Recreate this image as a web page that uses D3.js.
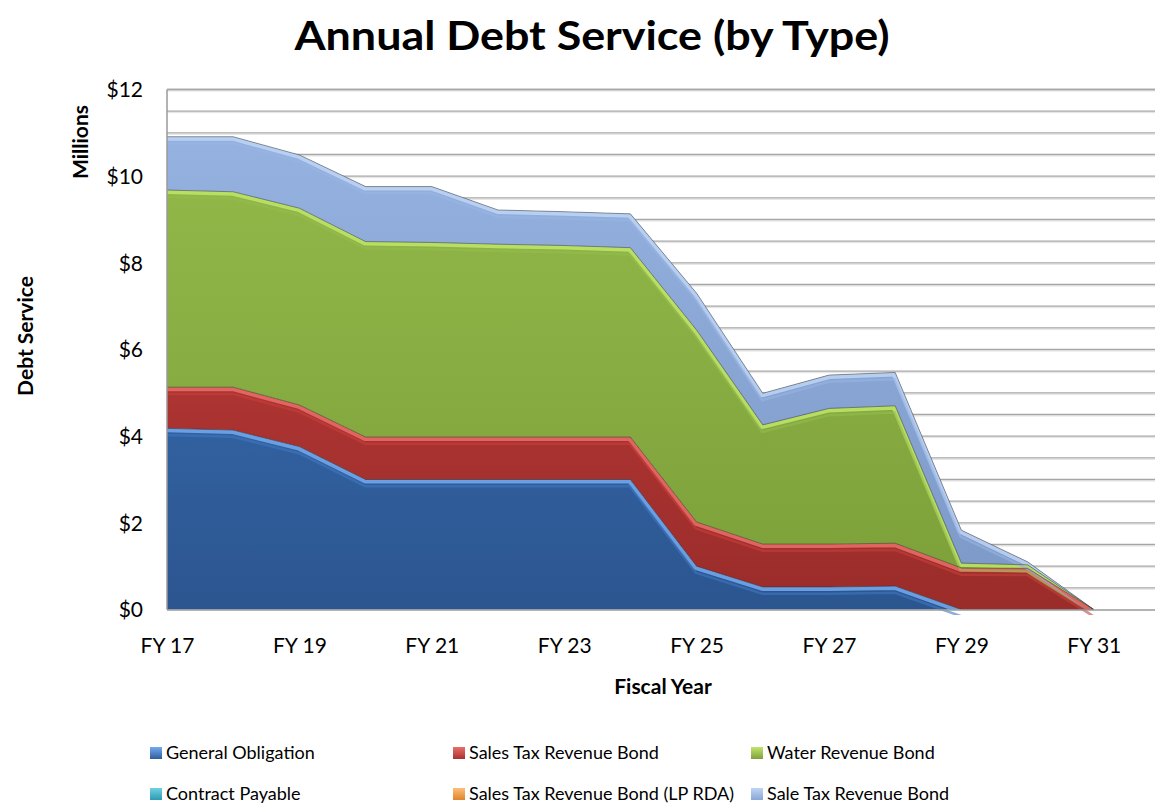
<!DOCTYPE html>
<html><head><meta charset="utf-8">
<script src="https://cdn.jsdelivr.net/npm/d3@7/dist/d3.min.js"></script>
<style>
html,body{margin:0;padding:0;background:#fff;}
svg{display:block;font-family:Lato,"Open Sans",sans-serif;}
</style></head>
<body>
<svg id="chart" width="1155" height="805"></svg>
<script>
// ---------- data (millions of dollars) ----------
const years = ["FY 17","FY 18","FY 19","FY 20","FY 21","FY 22","FY 23","FY 24","FY 25","FY 26","FY 27","FY 28","FY 29","FY 30","FY 31"];
const tickLabels = ["FY 17","FY 19","FY 21","FY 23","FY 25","FY 27","FY 29","FY 31"];
const yTicks = [0,2,4,6,8,10,12];
const seriesNames = ["General Obligation","Sales Tax Revenue Bond","Water Revenue Bond","Contract Payable","Sales Tax Revenue Bond (LP RDA)","Sale Tax Revenue Bond"];
const generalObligation = [4.18,4.14,3.76,3.00,3.00,3.00,3.00,3.00,1.00,0.52,0.52,0.54,0,0,0];
const salesTaxRevenueBond = [0.95,0.99,0.96,0.98,0.98,0.98,0.98,0.98,1.02,0.99,0.99,0.99,0.96,0.95,0];
const waterRevenueBond = [4.55,4.51,4.54,4.51,4.49,4.45,4.42,4.37,4.43,2.75,3.13,3.17,0.11,0.08,0];
const contractPayable = [0,0,0,0,0,0,0,0,0,0,0,0,0,0,0];
const salesTaxLPRDA = [0,0,0,0,0,0,0,0,0,0,0,0,0,0,0];
const saleTaxRevenueBond = [1.23,1.27,1.23,1.27,1.29,0.79,0.78,0.78,0.85,0.73,0.77,0.77,0.76,0.07,0];

// ---------- styles ----------
const colors = {
  "General Obligation": {top:"#3f77bf", bot:"#2b558f", hi:"#74aaf0", leg:"#2e5c9c"},
  "Sales Tax Revenue Bond": {top:"#c63f3c", bot:"#9a2c2a", hi:"#ea6e6a", leg:"#a83230"},
  "Water Revenue Bond": {top:"#95bc4c", bot:"#7c9f39", hi:"#c0e66a", leg:"#7f9f3c"},
  "Contract Payable": {top:"#3fb1c9", bot:"#2a8ca3", hi:"#70d0e4", leg:"#2d9bb3"},
  "Sales Tax Revenue Bond (LP RDA)": {top:"#f39a3e", bot:"#d27a22", hi:"#fbbf7a", leg:"#e0842a"},
  "Sale Tax Revenue Bond": {top:"#97b4e2", bot:"#7b98c6", hi:"#bed5f5", leg:"#8aa6d6"}
};

const rows = years.map((yr,i)=>({
  year:yr,
  "General Obligation":generalObligation[i],
  "Sales Tax Revenue Bond":salesTaxRevenueBond[i],
  "Water Revenue Bond":waterRevenueBond[i],
  "Contract Payable":contractPayable[i],
  "Sales Tax Revenue Bond (LP RDA)":salesTaxLPRDA[i],
  "Sale Tax Revenue Bond":saleTaxRevenueBond[i]
}));

const svg = d3.select("#chart");
const pL = 167, pR = 1160, pT = 89.5, pB = 609.5;

const x = d3.scaleLinear().domain([0, years.length]).range([pL, pR]);
const y = d3.scaleLinear().domain([0, 12]).range([pB, pT]);

const defs = svg.append("defs");
seriesNames.forEach((n,i)=>{
  const g = defs.append("linearGradient").attr("id","g"+i)
    .attr("gradientUnits","userSpaceOnUse").attr("x1",0).attr("x2",0).attr("y1",pT).attr("y2",pB);
  g.append("stop").attr("offset","0%").attr("stop-color",colors[n].top);
  g.append("stop").attr("offset","100%").attr("stop-color",colors[n].bot);
  const lg = defs.append("linearGradient").attr("id","lg"+i).attr("x1",0).attr("x2",0).attr("y1",0).attr("y2",1);
  lg.append("stop").attr("offset","0%").attr("stop-color",colors[n].hi);
  lg.append("stop").attr("offset","100%").attr("stop-color",colors[n].leg);
});

// title
svg.append("text").attr("x",592).attr("y",50).attr("text-anchor","middle")
  .attr("font-weight","bold").attr("font-size",40).attr("fill","#000")
  .attr("textLength",595).attr("lengthAdjust","spacingAndGlyphs")
  .text("Annual Debt Service (by Type)");

// gridlines
const gridVals = d3.range(1,25).map(d=>d*0.5);
const grid = svg.append("g");
grid.selectAll("line.sh").data(gridVals).join("line").attr("class","sh")
  .attr("x1",pL).attr("x2",pR).attr("y1",d=>y(d)+1.5).attr("y2",d=>y(d)+1.5)
  .attr("stroke","#e2e2e2").attr("stroke-width",1);
grid.selectAll("line.gl").data(gridVals).join("line").attr("class","gl")
  .attr("x1",pL).attr("x2",pR).attr("y1",d=>y(d)).attr("y2",d=>y(d))
  .attr("stroke","#a6a6a6").attr("stroke-width",1.3);

// stack
const stack = d3.stack().keys(seriesNames);
const layers = stack(rows);

const area = d3.area().x((d,i)=>x(i)).y0(d=>y(d[0])).y1(d=>y(d[1]));
const topLine = d3.line().x((d,i)=>x(i)).y(d=>y(d[1]));

const plot = svg.append("g");
layers.forEach((L,i)=>{
  const p = area(L);
  defs.append("clipPath").attr("id","c"+i).append("path").attr("d",p);
  plot.append("path").attr("d",p).attr("fill","url(#g"+i+")");
  plot.append("path").attr("d",topLine(L)).attr("fill","none")
    .attr("stroke",colors[seriesNames[i]].hi).attr("stroke-width",8)
    .attr("stroke-linejoin","round").attr("opacity",0.85)
    .attr("clip-path","url(#c"+i+")");
  plot.append("path").attr("d",topLine(L)).attr("fill","none")
    .attr("stroke",colors[seriesNames[i]].top).attr("stroke-width",5)
    .attr("transform","translate(0,5.5)").attr("opacity",0.6)
    .attr("clip-path","url(#c"+i+")");
});
layers.forEach((L,i)=>{
  if (d3.max(L, d=>d[1]-d[0]) === 0) return;
  plot.append("path").attr("d",topLine(L)).attr("fill","none")
    .attr("stroke","rgba(40,40,40,0.45)").attr("stroke-width",1);
});

// axis lines
svg.append("line").attr("x1",pL).attr("x2",pL).attr("y1",pT).attr("y2",pB)
  .attr("stroke","#9a9a9a").attr("stroke-width",1.5);
svg.append("line").attr("x1",pL).attr("x2",pR).attr("y1",pB+0.5).attr("y2",pB+0.5)
  .attr("stroke","#9a9a9a").attr("stroke-width",1.5);
svg.append("line").attr("x1",pL).attr("x2",pR).attr("y1",pT).attr("y2",pT)
  .attr("stroke","#a6a6a6").attr("stroke-width",1.3);

// axes
const yAxis = d3.axisLeft(y).tickValues(yTicks).tickSize(0).tickPadding(0).tickFormat(d=>"$"+d);
const ya = svg.append("g").attr("transform","translate(143,0)").call(yAxis);
ya.select(".domain").remove();
ya.selectAll("text").attr("font-size",21).attr("font-family","Lato").attr("fill","#000").attr("dy","0.35em");

const tickIdx = tickLabels.map(t=>years.indexOf(t));
const xAxis = d3.axisBottom(x).tickValues(tickIdx).tickSize(0).tickPadding(0).tickFormat(i=>years[i]);
const xa = svg.append("g").attr("transform","translate(0,638)").call(xAxis);
xa.select(".domain").remove();
xa.selectAll("text").attr("font-size",21).attr("font-family","Lato").attr("fill","#000").attr("dy","0.71em");

// axis titles
svg.append("text").attr("x",663).attr("y",694).attr("text-anchor","middle")
  .attr("font-weight","bold").attr("font-size",21).text("Fiscal Year");
svg.append("text").attr("transform","translate(33,336) rotate(-90)").attr("text-anchor","middle")
  .attr("font-weight","bold").attr("font-size",21).text("Debt Service");
svg.append("text").attr("transform","translate(88,142) rotate(-90)").attr("text-anchor","middle")
  .attr("font-weight","bold").attr("font-size",21).text("Millions");

// legend
const legPos = [[150,756],[453,756],[751,756],[150,797],[453,797],[751,797]];
seriesNames.forEach((n,i)=>{
  const [lx,ly] = legPos[i];
  svg.append("rect").attr("x",lx).attr("y",ly-9).attr("width",12).attr("height",12)
    .attr("fill","url(#lg"+i+")");
  svg.append("text").attr("x",lx+16).attr("y",ly+3).attr("font-size",18).attr("fill","#000").text(n);
});
</script>
</body></html>
